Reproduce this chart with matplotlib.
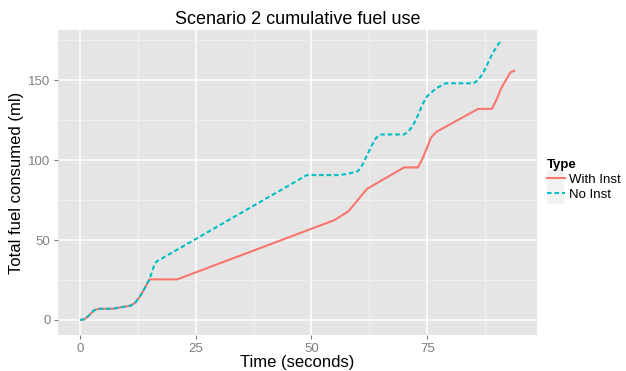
import matplotlib
matplotlib.use("Agg")
import matplotlib.pyplot as plt
from matplotlib.lines import Line2D
from matplotlib.patches import Rectangle

plt.rcParams["font.family"] = ["Liberation Sans", "DejaVu Sans"]

# ── DATA ────────────────────────────────────────────────────
time_with = [0, 1, 2, 3, 4, 7, 9, 11, 12, 13, 14, 15, 21, 55, 58, 60, 62,
             70, 73, 74, 75, 75.8, 77, 86, 89, 90, 91, 92, 93, 94]
fuel_with = [0, 0.5, 3, 6, 7, 7, 8, 9, 11, 15, 20, 25.4, 25.4, 62.5, 68, 75, 82,
             95.4, 95.4, 101, 108, 114, 117.7, 132, 132, 138, 145, 150, 155, 156]

time_no = [0, 1, 2, 3, 4, 7, 9, 11, 12, 13, 14, 15, 16, 16.5, 49, 56, 58, 60,
           61, 62, 63, 64, 65, 70, 71, 72, 73, 74, 75, 77, 79, 85, 86, 87, 88,
           89, 90, 91]
fuel_no = [0, 0.5, 3, 6, 7, 7, 8, 9, 11, 15, 20, 25.4, 34, 36.5, 90.6, 90.6, 91.5, 93,
           97, 103, 109, 114, 116, 116, 118, 122, 128, 135, 140, 145, 148, 148, 150, 154, 160,
           166, 171, 175]

labels = ["With Inst", "No Inst"]
colors = ["#F8766D", "#00BFC4"]

# ── PLOT ────────────────────────────────────────────────────
fig = plt.figure(figsize=(6.26, 3.71), dpi=100)
ax = fig.add_axes([0.0927, 0.097, 0.765, 0.822])
ax.set_facecolor("#E5E5E5")

dash = (0, (2.2, 1.4))
ax.plot(time_with, fuel_with, color=colors[0], lw=1.5, solid_capstyle="butt")
ax.plot(time_no, fuel_no, color=colors[1], lw=1.5, linestyle=dash)

ax.set_xlim(-4.75, 98.7)
ax.set_ylim(-9.4, 181.3)
ax.set_xticks([0, 25, 50, 75])
ax.set_yticks([0, 50, 100, 150])
ax.set_xticks([12.5, 37.5, 62.5, 87.5], minor=True)
ax.set_yticks([25, 75, 125, 175], minor=True)
ax.grid(which="major", color="white", lw=1.1)
ax.grid(which="minor", color="#F2F2F2", lw=0.6)
ax.set_axisbelow(True)
for s in ax.spines.values():
    s.set_visible(False)
ax.tick_params(which="major", colors="#7F7F7F", labelcolor="#7F7F7F",
               labelsize=9.5, length=3, width=0.8, pad=2.5)
ax.tick_params(which="minor", length=0)

ax.set_xlabel("Time (seconds)", fontsize=12, labelpad=0)
ax.set_ylabel("Total fuel consumed (ml)", fontsize=12, labelpad=3)
ax.set_title("Scenario 2 cumulative fuel use", fontsize=13, pad=4)

# legend with grey key boxes, ggplot style
for i in range(2):
    fig.patches.append(Rectangle((0.8735, 0.497 - i * 0.046), 0.027, 0.044,
                                 transform=fig.transFigure, facecolor="#F2F2F2",
                                 edgecolor="none"))
handles = [Line2D([], [], color=colors[0], lw=1.5),
           Line2D([], [], color=colors[1], lw=1.5, linestyle=dash)]
leg = fig.legend(handles, labels, title="Type", loc="upper left",
                 bbox_to_anchor=(0.865, 0.585), frameon=False, fontsize=9.5,
                 title_fontproperties={"weight": "bold", "size": 9.5},
                 handlelength=1.4, handletextpad=0.3, labelspacing=0.2,
                 borderaxespad=0)
leg._legend_box.align = "left"

plt.savefig("out.png", dpi=100)
